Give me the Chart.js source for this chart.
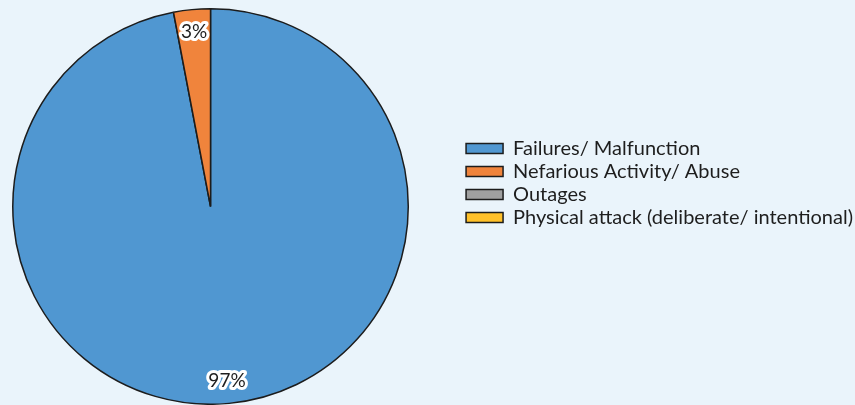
<!DOCTYPE html>
<html>
<head>
<meta charset="utf-8">
<script src="https://cdn.jsdelivr.net/npm/chart.js@4.4.0/dist/chart.umd.min.js"></script>
<style>
  html, body { margin: 0; padding: 0; background: #eaf4fb; overflow: hidden; }
  #wrap { width: 905px; height: 405px; margin-left: -42px; }
</style>
</head>
<body>
<div id="wrap"><canvas id="threats"></canvas></div>
<script>
// categories and shares (%)
const categories = ['Failures/ Malfunction', 'Nefarious Activity/ Abuse', 'Outages', 'Physical attack (deliberate/ intentional)'];
const shares = [97, 3, 0, 0];
const sliceColors = ['#5097d1', '#f0843c', '#a0a0a0', '#ffc12a'];

// draws "97%" style labels near the rim, with a white halo
const percentLabels = {
    id: 'percentLabels',
    afterDatasetsDraw(chart) {
        const ctx = chart.ctx;
        const meta = chart.getDatasetMeta(0);
        ctx.save();
        ctx.font = '19px Lato, "Open Sans", sans-serif';
        ctx.textAlign = 'center';
        ctx.textBaseline = 'middle';
        ctx.lineJoin = 'round';
        meta.data.forEach((arc, i) => {
            const v = shares[i];
            if (!v) return;
            const p = arc.getProps(['x', 'y', 'startAngle', 'endAngle', 'outerRadius'], true);
            const mid = (p.startAngle + p.endAngle) / 2;
            const r = p.outerRadius * 0.885;
            const x = p.x + Math.cos(mid) * r;
            const y = p.y + Math.sin(mid) * r;
            const txt = v + '%';
            ctx.lineWidth = 6;
            ctx.strokeStyle = '#ffffff';
            ctx.strokeText(txt, x, y);
            ctx.fillStyle = '#1e1e1e';
            ctx.fillText(txt, x, y);
        });
        ctx.restore();
    }
};

var ctxThreats = document.getElementById('threats').getContext('2d');
var threats = new Chart(ctxThreats, {
    type: 'pie',
    data: {
        labels: categories,
        datasets: [{
            data: shares,
            backgroundColor: sliceColors,
            borderColor: '#1c1c1c',
            borderWidth: 1.5
        }]
    },
    options: {
        responsive: true,
        maintainAspectRatio: false,
        animation: false,
        events: [],
        layout: {
            padding: { left: 0, top: 8, bottom: -1, right: 0 }
        },
        plugins: {
            tooltip: { enabled: false },
            legend: {
                position: 'right',
                align: 'start',
                title: {
                    display: true,
                    text: ' ',
                    font: { size: 12 },
                    padding: { top: 0, bottom: 113 }
                },
                labels: {
                    boxWidth: 37,
                    boxHeight: 10,
                    padding: 3,
                    color: '#1e1e1e',
                    font: { family: 'Lato, "Open Sans", sans-serif', size: 20 }
                }
            }
        }
    },
    plugins: [percentLabels]
});
</script>
</body>
</html>
